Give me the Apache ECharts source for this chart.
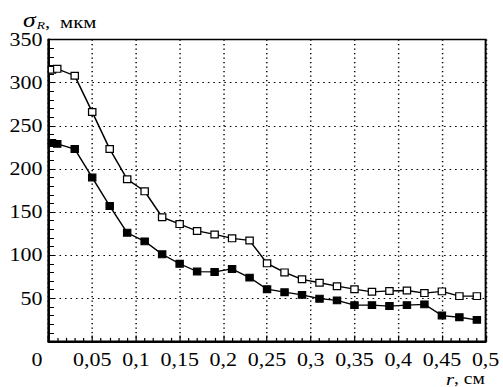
<!DOCTYPE html>
<html>
<head>
<meta charset="utf-8">
<script src="https://cdn.jsdelivr.net/npm/echarts@6/dist/echarts.min.js"></script>
<style>
  html, body { margin: 0; padding: 0; background: #fff; overflow: hidden; }
  /* The chart is laid out narrow and stretched horizontally (vector SVG keeps it crisp). */
  #wrap { width: 503px; height: 387px; overflow: hidden; }
  #chart { width: 412px; height: 387px; transform: scaleX(1.2209); transform-origin: 0 0; }
</style>
</head>
<body>
<div id="wrap"><div id="chart"></div></div>
<script>
// Radius, cm
const radius = [0.004, 0.01, 0.03, 0.05, 0.07, 0.09, 0.11, 0.13, 0.15, 0.17, 0.19, 0.21, 0.23,
                0.25, 0.27, 0.29, 0.31, 0.33, 0.35, 0.37, 0.39, 0.41, 0.43, 0.45, 0.47, 0.49];
// sigma_R, um — open squares
const sigmaOpen = [315, 316, 308, 266, 223, 188, 174, 144, 136, 128, 124, 119.5, 117,
                   90.5, 80, 72, 68, 64, 60.5, 57.5, 58.5, 59, 56, 58, 52.5, 52.5];
// sigma_R, um — filled squares
const sigmaFilled = [230, 229, 223, 190, 157, 126, 116, 101, 90, 81, 80.5, 84, 74,
                     60.5, 57, 54, 49.5, 47.5, 42, 42, 41, 42, 43, 30, 28, 25];

const S = 1.2209; // horizontal stretch applied by CSS
const FONT = 'Liberation Serif, serif';

const chart = echarts.init(document.getElementById('chart'), null, { renderer: 'svg' });

const pairs = (ys) => radius.map((r, i) => [r, ys[i]]);

chart.setOption({
  animation: false,
  backgroundColor: '#fff',
  grid: {
    left: 48.5 / S, right: 9 / S, top: 39.5, bottom: 45.6,
    show: true, borderColor: '#000', borderWidth: 1.6, backgroundColor: 'transparent'
  },
  xAxis: {
    type: 'value', min: 0, max: 0.5, interval: 0.05,
    axisLine: { show: true, lineStyle: { color: '#000', width: 1.8 } },
    axisTick: { show: true, inside: true, length: 6, lineStyle: { color: '#000', width: 1 } },
    minorTick: { show: true, splitNumber: 5, length: 3.5, lineStyle: { color: '#000', width: 1 } },
    splitLine: { show: true, lineStyle: { color: '#000', width: 1.2, type: [1.3, 3.2] } },
    axisLabel: {
      color: '#000', fontFamily: FONT, fontSize: 18, margin: 9,
      formatter: (v) => v === 0 ? '{z|0}' : String(+v.toFixed(2)).replace('.', ','),
      rich: { z: { fontFamily: FONT, fontSize: 18, color: '#000', padding: [0, 19, 0, 0] } }
    }
  },
  yAxis: {
    type: 'value', min: 0, max: 350, interval: 50,
    axisLine: { show: true, lineStyle: { color: '#000', width: 1.8 } },
    axisTick: { show: true, inside: true, length: 4.5, lineStyle: { color: '#000', width: 1 } },
    minorTick: { show: true, splitNumber: 5, length: 4.5, lineStyle: { color: '#000', width: 1 } },
    splitLine: { show: true, lineStyle: { color: '#000', width: 1.2, type: [1.3, 3.2] } },
    axisLabel: {
      color: '#000', fontFamily: FONT, fontSize: 18, margin: 5, showMinLabel: false,
      padding: [3, 0, 0, 0]
    }
  },
  graphic: [
    {
      // value axis name: sigma with subscript R, units
      type: 'text', x: 23 / S, y: 4.5,
      style: {
        text: '{s|σ}{sub|R}{n|,}{u|мкм}',
        verticalAlign: 'top',
        rich: {
          s: { fontFamily: FONT, fontStyle: 'italic', fontSize: 21, lineHeight: 24, verticalAlign: 'bottom', fill: '#000' },
          sub: { fontFamily: FONT, fontStyle: 'italic', fontSize: 11, lineHeight: 14, verticalAlign: 'bottom', fill: '#000', padding: [0, 0, 0, 1] },
          n: { fontFamily: FONT, fontSize: 17, lineHeight: 26, verticalAlign: 'bottom', fill: '#000' },
          u: { fontFamily: FONT, fontSize: 17, lineHeight: 26, verticalAlign: 'bottom', fill: '#000', padding: [0, 0, 0, 8] }
        }
      }
    },
    {
      // radial axis name
      type: 'text', x: 446 / S, y: 379,
      style: {
        text: '{i|r}{n|, см}',
        verticalAlign: 'middle',
        rich: {
          i: { fontFamily: FONT, fontStyle: 'italic', fontSize: 17, fill: '#000' },
          n: { fontFamily: FONT, fontSize: 16, fill: '#000' }
        }
      }
    }
  ],
  series: [
    {
      type: 'line', data: pairs(sigmaOpen), symbol: 'rect', symbolSize: [6, 6.8],
      lineStyle: { color: '#000', width: 1.3 },
      itemStyle: { color: '#fff', borderColor: '#000', borderWidth: 1.1 },
      z: 3
    },
    {
      type: 'line', data: pairs(sigmaFilled), symbol: 'rect', symbolSize: [6, 6.8],
      lineStyle: { color: '#000', width: 1.3 },
      itemStyle: { color: '#000', borderColor: '#000', borderWidth: 1 },
      z: 3
    }
  ]
});
</script>
</body>
</html>
